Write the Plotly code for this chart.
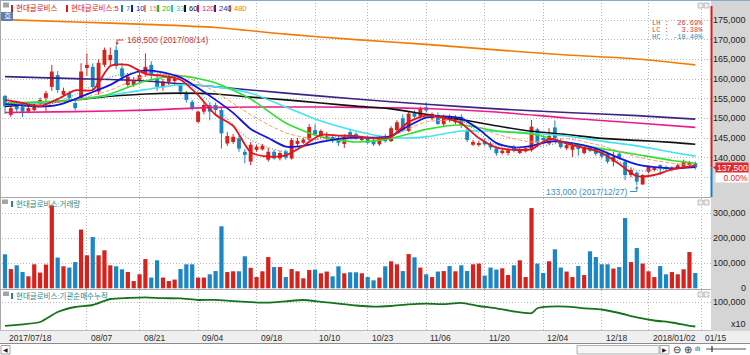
import plotly.graph_objects as go

# ---------------- data ----------------
opens = [155700,150900,153300,153000,151700,152100,153900,155200,158000,161000,
         156000,156400,153900,155200,162800,163100,156800,163600,164800,167400,
         162700,158500,158500,159800,161400,163600,160200,157900,159300,159500,
         158500,156300,154200,149100,151700,153400,153400,152100,143600,144000,
         144900,141500,139000,142000,142100,139500,141500,139800,141500,139800,
         143500,143800,144600,147000,145500,145000,145300,145000,143500,146500,
         146000,144500,145000,144300,143400,145500,144200,147000,150000,146800,
         151300,150400,152800,150000,150800,148500,150500,149000,150400,147000,
         143300,143300,144200,143600,142400,141300,141200,142800,141200,141600,
         141900,147200,145000,143600,147700,144300,142400,142000,143200,141200,
         142600,142300,141500,141100,139000,141000,139000,135600,136200,133200,
         136400,137000,138100,137600,137000,137300,137700,138200,138600]
highs = [156000,153500,154300,153600,153200,153800,155300,157000,163600,162000,
         157800,157000,154500,164000,166500,164000,165000,168000,168000,168500,
         164000,161000,160500,162000,166500,164500,161000,160000,161000,160800,
         159000,157000,154700,152000,154000,154000,154000,153000,146500,146000,
         145500,142200,144000,143300,143500,142500,142000,141800,142000,145000,
         145000,145000,148500,148500,147200,146500,146000,145500,146000,147000,
         146500,145500,145500,144800,145500,146000,148000,149500,151000,151800,
         152000,153000,154000,151500,151500,151000,151000,150800,151000,147500,
         144500,144300,144800,144000,142800,142300,142300,143200,142500,142800,
         149600,147600,145600,147500,149500,144800,143800,143600,143600,142800,
         143000,142800,142000,141500,141500,141500,139500,137500,136500,135800,
         137900,137700,138300,138000,137800,138500,139500,139200,139000]
lows = [151100,150300,151500,150300,151300,151800,153400,151700,157000,156500,
        155400,154500,152000,154500,160800,157000,156000,163000,163500,162500,
        159500,158000,158000,159000,160500,160000,157000,157000,158500,158500,
        156000,154000,152000,148800,151000,149500,151000,142300,143000,143500,
        141500,138600,138100,141500,141800,139000,139500,139300,139500,139500,
        143000,143500,144000,145500,145000,144500,143800,143000,142500,145000,
        144500,144000,143500,143000,143000,143800,144000,146500,146500,146500,
        150000,150000,151500,149500,148300,148000,149000,148500,147500,144000,
        143000,142800,143000,142000,140500,140800,140600,141300,140900,141300,
        141500,143400,144000,143200,144500,142300,142000,140200,140500,140800,
        141400,140500,139800,138500,137800,139500,134300,135000,133000,133100,
        136000,136500,135600,136800,136500,137000,137300,137800,137000]
closes = [153000,152600,152300,151700,152600,153100,154700,156400,161900,157200,
          157000,155200,152600,161900,163600,158000,164100,167400,166100,163300,
          160600,160600,159600,161000,163100,161000,158000,159300,160600,160200,
          156800,154700,152500,151700,153400,151700,152100,146200,145500,145300,
          142300,140700,143300,142800,143000,141500,139800,141200,140000,144500,
          144300,144600,147800,145900,146800,145400,144200,143800,145300,145500,
          144800,145200,143800,143400,144800,144200,147500,149000,147000,151200,
          150400,152500,152000,151000,148600,150500,149500,150200,148300,144500,
          144000,143600,143400,142600,141100,141800,141900,141800,142000,142400,
          147900,143800,144600,145500,144900,142700,143200,143000,142200,142700,
          141800,141000,140300,139000,140200,139800,135600,136900,133900,135600,
          137700,137400,137300,137200,137400,138100,139000,138700,137500]
volumes = [136000,77000,92000,65000,48000,96000,63000,95000,332000,123000,
           88000,83000,105000,235000,132000,205000,132000,152000,92000,88000,
           76000,65000,29000,56000,117000,43000,112000,43000,29000,35000,
           77000,96000,96000,43000,43000,56000,69000,248000,65000,68000,
           68000,128000,82000,45000,68000,125000,85000,85000,45000,77000,
           68000,40000,73000,75000,60000,67000,48000,88000,60000,64000,
           64000,60000,45000,32000,43000,88000,108000,96000,69000,137000,
           124000,83000,56000,45000,67000,69000,89000,68000,92000,69000,
           96000,99000,51000,83000,75000,80000,53000,92000,112000,45000,
           321000,99000,61000,108000,156000,83000,67000,45000,89000,53000,
           148000,125000,96000,96000,79000,85000,281000,105000,161000,99000,
           68000,45000,89000,56000,65000,56000,76000,145000,61000]

# moving averages, read at sampled trading-day indices
ma_idx_3 = [0,3,6,9,12,15,18,21,24,27,30,33,36,39,42,45,48,51,54,57,60,63,66,69,
            72,75,78,81,84,87,90,93,96,99,102,105,108,111,114,118]
ma5 = [154700,153900,153100,154900,157100,157200,163300,163600,161300,160800,
       159800,155900,150900,148100,141400,140300,140600,143000,145800,145600,
       145500,144900,145300,149100,150700,150100,148700,145000,142600,142000,
       142200,144800,143600,142500,141200,138400,135300,135600,137000,138000]
ma10 = [153600,153300,153000,153400,154900,156700,158500,161000,162200,161700,
        160400,157700,154700,151400,147300,145000,142800,143000,144000,144800,
        145100,145100,145500,148100,150200,150500,150000,147200,143700,142600,
        143000,144100,143900,143100,141800,139900,138300,137600,137300,137600]
ma_idx_6 = [0,6,12,18,24,30,36,42,48,54,60,66,72,78,84,90,96,102,108,114,118]
ma7 = [154200,153000,156000,160500,161800,160100,152800,144500,141600,145000,145300,
       145400,150500,149400,143200,142600,143800,141500,136800,137200,137800]
ma15 = [153600,153600,154700,157200,160800,161000,156700,150900,146300,144500,144800,
        145500,149100,149300,146000,144000,144800,143000,140200,138600,138100]
ma20 = [153800,154200,154700,156200,159500,160800,159000,154900,148800,145300,144000,
        144900,147200,148300,146800,146000,143900,142300,140800,139300,138600]
ma33 = [153400,153900,154800,155900,157300,158500,158000,156400,152900,149300,146800,
        145100,145300,146800,146700,146200,145500,144200,143000,141400,140400]
ma60 = [153000,153800,154700,155600,156200,156400,156200,155400,154700,153900,153100,
        152400,151000,149700,148100,146700,145900,144900,144400,143900,143400]
ma_idx_12 = [0,12,24,36,48,60,72,84,96,108,118]
ma120 = [151500,151700,152100,152800,152900,152800,152500,151600,150100,148800,147700]
ma240 = [160600,160100,159500,158000,156400,154900,153600,152400,151500,150700,149800]
ma480 = [175100,174500,173900,173100,171400,170000,168800,167400,166100,165100,163600]

# institutional net-buying (cumulative), read at sampled indices
inst_idx = [0,3,6,9,12,15,18,21,24,27,30,33,36,39,42,45,48,51,54,57,60,63,66,69,72,
            75,78,81,84,87,90,91,93,96,99,102,105,108,111,114,117,118]
inst_val = [52400,55400,60000,80000,90000,94000,106000,108000,109400,107600,107200,
            104000,104400,101600,99600,98600,101400,104000,100400,96800,93000,90600,
            92000,95200,96800,95600,98400,92000,87400,81000,77600,87400,90600,90600,
            87400,85000,78000,69400,63000,59000,52400,51000]

tick_pos = [0,14,23,33,43,53,62,72,82,92,102,110,119]
tick_labels = ["2017/07/18","08/07","08/21","09/04","09/18","10/10","10/23",
               "11/06","11/20","12/04","12/18","2018/01/02","01/15"]
price_ticks = [140000,145000,150000,155000,160000,165000,170000,175000]
vol_ticks = [0,100000,200000,300000]

legend_items = [("현대글로비스", "#c8201e", 11), ("현대글로비스:5", "#e01a1a", 66),
                ("7", "#1f8585", 121), ("10", "#1414d0", 131), ("15", "#ff8a4a", 144),
                ("20", "#18c018", 157), ("33", "#22c4cc", 171), ("60", "#111111", 184),
                ("120", "#e0187f", 197), ("240", "#3d2385", 214), ("480", "#f08000", 229)]

stats = [("LH", "26.69%", '#d23c3c'), ("LC", "3.38%", '#d23c3c'), ("HC", "-18.40%", '#2a86c0')]

# ---------------- layout geometry ----------------
W, H = 750, 355
X0PX, STEP = 5.0, 5.85          # pixel of first candle, pixels per trading day
PLOT_L, PLOT_R = 2, 711


def X(px):
    return px / W


def Y(py):
    return 1 - py / H


def ix(px):
    return (px - X0PX) / STEP


def pp(py):   # price at pixel row
    return 175000 - (py - 20) * 254.2


def vv(py):   # volume at pixel row
    return (288.3 - py) * 4000


def ii(py):   # institutional value at pixel row
    return 100000 + (302 - py) * 2000


RED, BLUE = '#d6221c', '#1b86c4'
NUM_FONT = "Liberation Sans, Arial, sans-serif"
KR_FONT = "Liberation Sans, Noto Sans CJK KR, sans-serif"
GRID = dict(showgrid=True, gridcolor='#b8b8b8', griddash='1px,2px', gridwidth=1,
            zeroline=False, showline=False, ticks='', showticklabels=False, fixedrange=True)

fig = go.Figure()
n = len(closes)
xi = list(range(n))
up = [c >= o for o, c in zip(opens, closes)]
colors = [RED if u else BLUE for u in up]

# wicks
for col, flag in ((RED, True), (BLUE, False)):
    wx, wy = [], []
    for i in xi:
        if up[i] == flag:
            wx += [i, i, None]
            wy += [lows[i], highs[i], None]
    fig.add_trace(go.Scatter(x=wx, y=wy, mode='lines', line=dict(color=col, width=1),
                             xaxis='x', yaxis='y', hoverinfo='skip'))
# bodies
fig.add_trace(go.Bar(x=xi, y=[max(abs(c - o), 180) for o, c in zip(opens, closes)],
                     base=[min(o, c) for o, c in zip(opens, closes)],
                     marker=dict(color=colors, line=dict(width=0)), width=0.66,
                     xaxis='x', yaxis='y'))

ma_specs = [(ma_idx_12, ma480, '#f47a00', 1.6, 'solid'),
            (ma_idx_12, ma240, '#3d2385', 1.6, 'solid'),
            (ma_idx_12, ma120, '#ee1a8a', 1.6, 'solid'),
            (ma_idx_6, ma60, '#111111', 1.6, 'solid'),
            (ma_idx_6, ma33, '#44e3f0', 1.6, 'solid'),
            (ma_idx_6, ma20, '#2fe02f', 1.6, 'solid'),
            (ma_idx_6, ma15, '#ff9a6a', 1.0, '4px,2px'),
            (ma_idx_3, ma10, '#1414dc', 1.8, 'solid'),
            (ma_idx_6, ma7, '#2a8f8f', 1.0, '1px,2px'),
            (ma_idx_3, ma5, '#e4141a', 1.8, 'solid')]
for mx, my, col, w, dash in ma_specs:
    fig.add_trace(go.Scatter(x=mx, y=my, mode='lines',
                             line=dict(color=col, width=w, dash=dash, shape='spline', smoothing=0.7),
                             xaxis='x', yaxis='y', hoverinfo='skip'))

# volume
fig.add_trace(go.Bar(x=xi, y=volumes, marker=dict(color=colors, line=dict(width=0)),
                     width=0.72, xaxis='x2', yaxis='y2'))
# institutional cumulative
fig.add_trace(go.Scatter(x=inst_idx, y=inst_val, mode='lines',
                         line=dict(color='#15731c', width=1.8, shape='spline', smoothing=0.5),
                         xaxis='x3', yaxis='y3', hoverinfo='skip'))

xr = [ix(PLOT_L), ix(PLOT_R)]
xd = [X(PLOT_L), X(PLOT_R)]
grid_x = tick_pos[1:]

ann, shapes = [], []


def txt(x, y, s, size=9, color='#1e1e1e', xanchor='left', yanchor='middle',
        xref='paper', yref='paper', font=NUM_FONT, **kw):
    ann.append(dict(x=x, y=y, text=s, xref=xref, yref=yref, xanchor=xanchor, yanchor=yanchor,
                    showarrow=False, font=dict(family=font, size=size, color=color), **kw))


def rect(x0, y0, x1, y1, fill, line='rgba(0,0,0,0)', lw=0, layer='below'):
    shapes.append(dict(type='rect', xref='paper', yref='paper', x0=X(x0), x1=X(x1),
                       y0=Y(y1), y1=Y(y0), fillcolor=fill, line=dict(color=line, width=lw),
                       layer=layer))


def hline(py, x0, x1, color, w=1, layer='above'):
    shapes.append(dict(type='line', xref='paper', yref='paper', x0=X(x0), x1=X(x1),
                       y0=Y(py), y1=Y(py), line=dict(color=color, width=w), layer=layer))


# backgrounds
rect(PLOT_R, 0, W, 331, '#d5d5d5')
rect(0, 331, W, 343.5, '#efefef')
rect(0, 343.5, W, H, '#ffffff')
hline(343.5, 0, W, '#8c8c8c')
hline(0.5, 0, W, '#88a9d6')
shapes.append(dict(type='line', xref='paper', yref='paper', x0=X(0.5), x1=X(0.5),
                   y0=Y(331), y1=Y(0), line=dict(color='#a8a8a8', width=1)))
hline(197.5, 0, PLOT_R, '#a8a8a8')
hline(289.5, 0, PLOT_R, '#a8a8a8')
hline(330.5, 0, PLOT_R, '#bdbdbd')

# current-price range bar on the price axis edge
last = closes[-1]
shapes.append(dict(type='line', xref='paper', yref='y', x0=X(711.5), x1=X(711.5),
                   y0=last, y1=pp(6), line=dict(color='#d61f1f', width=2)))
shapes.append(dict(type='line', xref='paper', yref='y', x0=X(711.5), x1=X(711.5),
                   y0=pp(197), y1=last, line=dict(color='#1b7fc0', width=2)))
shapes.append(dict(type='path', xref='paper', yref='y', fillcolor='#e3262b',
                   line=dict(width=0),
                   path=f"M {X(713)},{last} L {X(718)},{last + 800} L {X(718)},{last - 800} Z"))

# y tick labels (right-aligned in the grey axis strip)
for v in price_ticks:
    txt(X(748), v, f"{v:,}", yref='y', xanchor='right')
for v in vol_ticks:
    txt(X(748), v, f"{v:,}", yref='y2', xanchor='right')
txt(X(748), 100000, "100,000", yref='y3', xanchor='right')
txt(X(748), Y(323.5), "x10", xanchor='right')

# price box + change
txt(X(748.5), last, f"{last:,}", yref='y', xanchor='right', color='white', size=8.5,
    bgcolor='#e3262b', width=32, height=10, align='right', borderpad=0)
txt(X(748.5), Y(177.5), "0.00%", xanchor='right', color='#e3262b', size=8.5,
    bgcolor='white', width=32, height=9, align='right', borderpad=0)

# date labels
for p, lab in zip(tick_pos, tick_labels):
    txt(p, Y(337.5), lab, size=8.5, color='#2b2b2b', xref='x', xshift=2)

# legend row
for lab, col, mx in legend_items:
    rect(mx, 5, mx + 2, 12, col, layer='above')
    txt(X(mx + 3), Y(8.5), lab, size=7.5, color=col, font=KR_FONT)
rect(3, 2.5, 9, 7.5, '#a4a4a4', layer='above')
rect(1, 12, 13, 21, '#5b7fb2', layer='above')
txt(X(7), Y(16.5), "호", size=8, color='white', xanchor='center', font=KR_FONT)

# panel titles
rect(2, 199.5, 8, 204, '#a4a4a4', layer='above')
rect(11, 201, 13, 207, '#1f8a8a', layer='above')
txt(X(14), Y(204), "현대글로비스:거래량", size=7.5, color='#1f8a8a', font=KR_FONT)
rect(3, 291.5, 9, 296, '#a4a4a4', layer='above')
rect(11, 293, 13, 299, '#1f8a8a', layer='above')
txt(X(14), Y(296), "현대글로비스:기관순매수누적", size=7.5, color='#1f8a8a', font=KR_FONT)

# panel corner buttons
for yb in (3, 200, 292):
    rect(698, yb, 703, yb + 5, '#eeeeee', line='#9a9a9a', lw=0.6, layer='above')
    rect(704, yb, 709, yb + 5, '#eeeeee', line='#9a9a9a', lw=0.6, layer='above')

# LH / LC / HC box (single monospace strings, right-aligned)
for py, (lab, val, col) in zip((22.7, 29.9, 37.1), stats):
    pad = "&nbsp;" * (8 - len(val))
    txt(X(704), Y(py), f"{lab}&nbsp;:{pad}{val}", size=7, color=col, xanchor='right',
        font="Liberation Mono, DejaVu Sans Mono, monospace", borderpad=0)

# high / low markers
hi_i = highs.index(max(highs))
lo_i = lows.index(min(lows))
txt(hi_i, max(highs), f"{max(highs):,} (2017/08/14)", size=8.5, color='#c43a3a',
    xref='x', yref='y', xshift=125 - (X0PX + hi_i * STEP), yshift=5.6)
shapes.append(dict(type='path', xref='x', yref='y', line=dict(color='#c43a3a', width=1),
                   path=f"M {ix(123.5)},{pp(40)} L {ix(117)},{pp(40)} L {ix(117)},{pp(43.5)}"))
shapes.append(dict(type='path', xref='x', yref='y', fillcolor='#c43a3a', line=dict(width=0),
                   path=f"M {ix(115.3)},{pp(42.5)} L {ix(118.7)},{pp(42.5)} L {ix(117)},{pp(45.5)} Z"))
txt(lo_i, min(lows), f"{min(lows):,} (2017/12/27)", size=8.5, color='#3a8fc4',
    xref='x', yref='y', xanchor='right', xshift=628.5 - (X0PX + lo_i * STEP), yshift=-6.6)
shapes.append(dict(type='path', xref='x', yref='y', line=dict(color='#3a8fc4', width=1),
                   path=f"M {ix(630)},{pp(191.5)} L {ix(636.8)},{pp(191.5)} L {ix(636.8)},{pp(188)}"))
shapes.append(dict(type='path', xref='x', yref='y', fillcolor='#3a8fc4', line=dict(width=0),
                   path=f"M {ix(635.1)},{pp(188.7)} L {ix(638.5)},{pp(188.7)} L {ix(636.8)},{pp(185.8)} Z"))

# bottom toolbar
rect(1, 345.5, 10, 354, '#ffffff', line='#8a8a8a', lw=0.8, layer='above')
txt(X(5.5), Y(350), "◀", size=6, color='#222222', xanchor='center')
rect(577, 345.5, 659, 354, '#f6f6f6', line='#a0a0a0', lw=0.8, layer='above')
rect(660, 345.5, 669, 354, '#ffffff', line='#8a8a8a', lw=0.8, layer='above')
txt(X(664.5), Y(350), "▶", size=6, color='#222222', xanchor='center')
txt(X(677), Y(349.5), "⊖", size=10, color='#333333', xanchor='center')
txt(X(688), Y(349.5), "⊕", size=10, color='#333333', xanchor='center')
txt(X(698), Y(348), "ılı", size=7, color='#333333', xanchor='center')
hline(349, 706, 746, '#555555', 1)
shapes.append(dict(type='line', xref='paper', yref='paper', x0=X(712), x1=X(712),
                   y0=Y(352), y1=Y(346), line=dict(color='#333333', width=1.2)))

fig.update_layout(
    width=W, height=H, autosize=False,
    margin=dict(l=0, r=0, t=0, b=0),
    paper_bgcolor='white', plot_bgcolor='white',
    showlegend=False, barmode='overlay', hovermode=False,
    font=dict(family=NUM_FONT, size=9, color='#1e1e1e'),
    xaxis=dict(domain=xd, range=xr, anchor='y', tickvals=grid_x, **GRID),
    xaxis2=dict(domain=xd, range=xr, anchor='y2', matches='x', tickvals=grid_x, **GRID),
    xaxis3=dict(domain=xd, range=xr, anchor='y3', matches='x', tickvals=grid_x, **GRID),
    yaxis=dict(domain=[Y(197), Y(3)], range=[pp(197), pp(3)], anchor='x',
               tickvals=[135000] + price_ticks, **GRID),
    yaxis2=dict(domain=[Y(289), Y(198)], range=[vv(289), vv(198)], anchor='x2',
                tickvals=vol_ticks[1:], **GRID),
    yaxis3=dict(domain=[Y(331), Y(290)], range=[ii(331), ii(290)], anchor='x3',
                tickvals=[100000], **GRID),
    annotations=ann, shapes=shapes,
)

fig.write_html("out.html", config={'displayModeBar': False},
               post_script="document.body.style.margin='0px';document.body.style.overflow='hidden';")
